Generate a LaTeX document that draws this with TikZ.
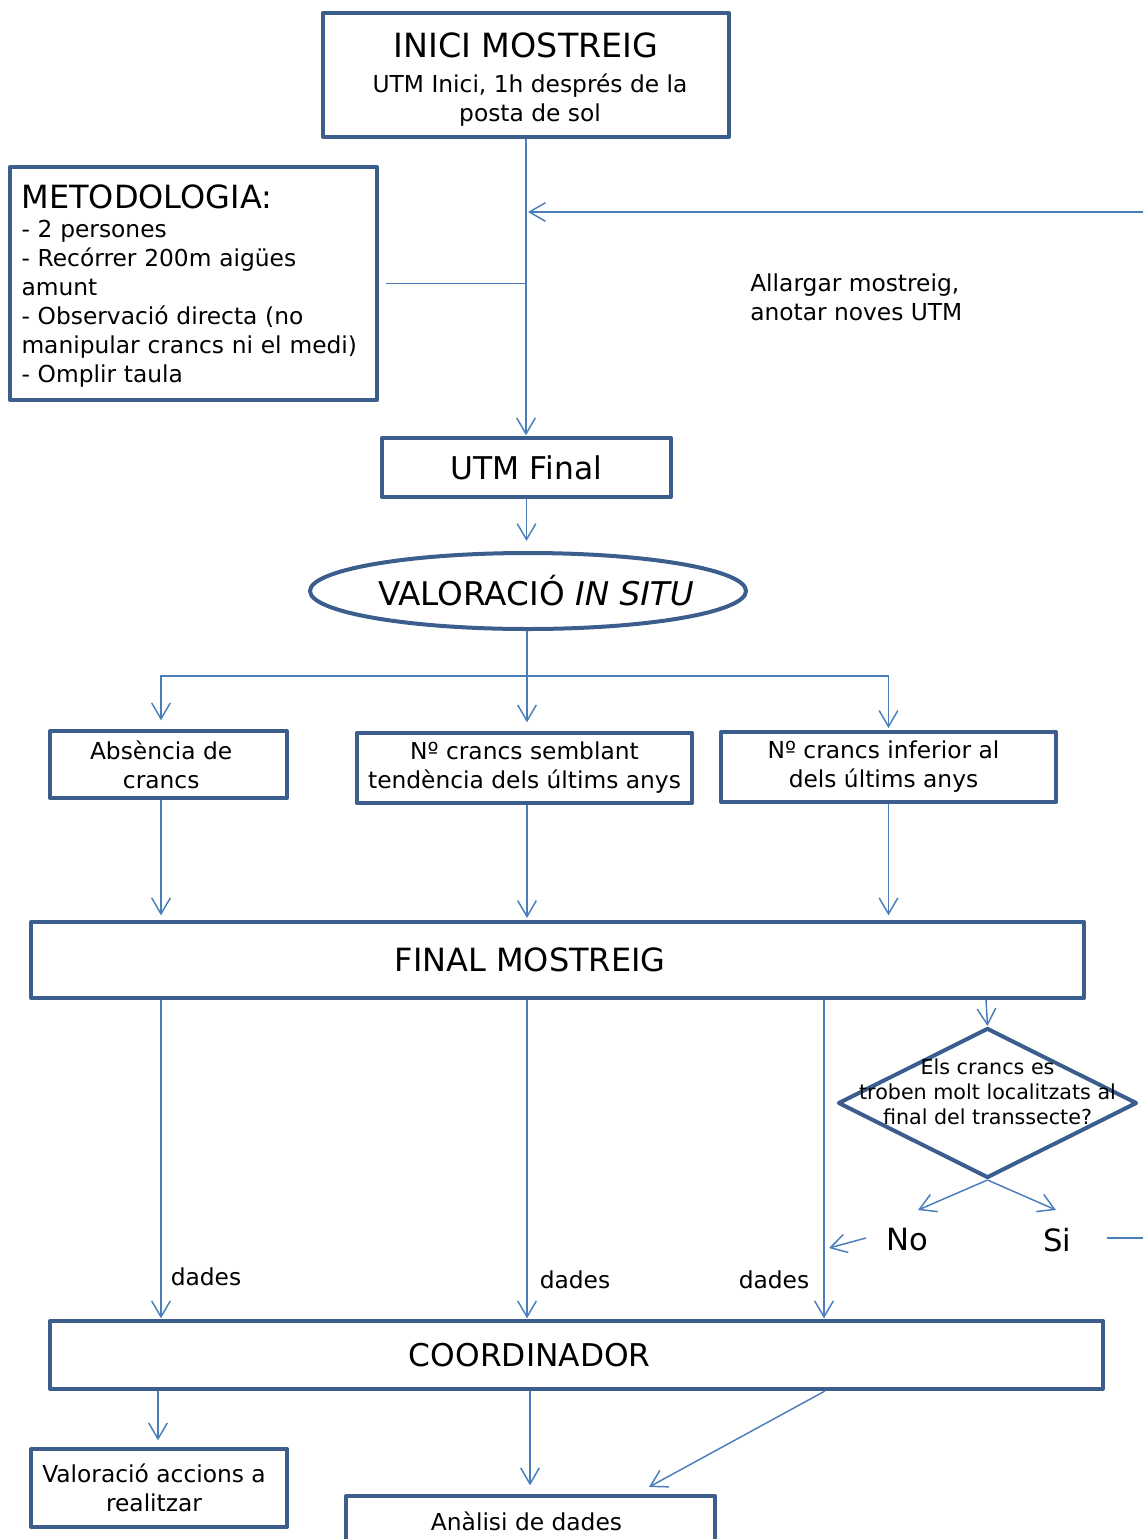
\documentclass[tikz,border=0pt]{standalone}
\usepackage{fontspec}
\setmainfont{DejaVu Sans}
\usetikzlibrary{arrows.meta,shapes.geometric}
\definecolor{boxc}{HTML}{3B5E8C}
\definecolor{linec}{HTML}{4A7EBB}
\newcommand\bigf{\fontsize{23.5}{28}\selectfont}
\newcommand\bigff{\fontsize{24.5}{29}\selectfont}
\newcommand\smf{\fontsize{17.5}{21.75}\selectfont}
\newcommand\dmf{\fontsize{15.5}{18.75}\selectfont}
\newcommand\nof{\fontsize{23}{28}\selectfont}
\begin{document}
\begin{tikzpicture}[x=0.75pt,y=-0.75pt,
  box/.style={draw=boxc, line width=3pt, line join=round, fill=white, inner sep=0pt, align=center, text=black},
  sz/.style 2 args={minimum width=#1*0.75pt, minimum height=#2*0.75pt},
  conn/.style={draw=linec, line width=1.1pt},
  arr/.style={conn, -{Straight Barb[length=12pt, width=14pt]}},
  lbl/.style={inner sep=0pt, text=black},
]
\useasboundingbox (0,0) rectangle (1143,1539);
\begin{scope}
\clip (0,0) rectangle (1143,1539);

% boxes
\node[box, sz={406}{124}, font=\smf] (inici) at (526,75)
  {{\fontsize{25}{29}\selectfont\rule{0pt}{25.5pt}INICI MOSTREIG}\\[4pt]\hspace*{6pt}UTM Inici, 1h després de la\\\hspace*{6pt}posta de sol};
\node[box, sz={367}{233}, align=left, text width=344*0.75pt, font=\smf] (metod) at (193.5,283.5)
  {{\fontsize{24}{28}\selectfont\rule{0pt}{21pt}METODOLOGIA:}\\- 2 persones\\- Recórrer 200m aigües\\amunt\\- Observació directa (no\\manipular crancs ni el medi)\\- Omplir taula};
\node[lbl, font=\smf, align=left, anchor=west] (allarg) at (750,297)
  {Allargar mostreig,\\anotar noves UTM};
\node[box, sz={289}{59}, font=\bigf] (utmf) at (526.5,467.5) {UTM Final};
\node[box, ellipse, sz={436}{76},
  label={[name=valt, font=\bigff, text=black, xshift=6pt]center:VALORACIÓ \textit{IN SITU}}] (val) at (528,591) {};
\node[box, sz={237}{67}, font=\smf] (abs) at (168.5,764.5) {Absència de\hspace*{11pt}\\crancs\hspace*{11pt}};
\node[box, sz={335}{70}, font=\smf] (semb) at (524.5,768) {Nº crancs semblant\\tendència dels últims anys};
\node[box, sz={335}{70}, font=\smf] (inf) at (888.5,767) {Nº crancs inferior al\hspace*{7.5pt}\\dels últims anys\hspace*{7.5pt}};
\node[box, sz={1053}{76}, font=\fontsize{24}{28}\selectfont] (final) at (557.5,960) {FINAL MOSTREIG\hspace*{41pt}};
\node[draw=boxc, line width=3pt, line join=round, fill=white, diamond, aspect=2, inner sep=0pt, sz={299}{150},
  label={[name=diamt, font=\dmf, align=center, yshift=8.5pt, text=black]center:Els crancs es\\troben molt localitzats al\\final del transsecte?}] (diam) at (987.5,1103) {};
\node[lbl, font=\nof] (no) at (907,1240) {No};
\node[lbl, font=\nof] (si) at (1057,1240) {Si};
\node[box, sz={1053}{68}, font=\bigf] (coord) at (576.5,1355) {COORDINADOR\hspace*{70pt}};
\node[box, sz={256}{78}, font=\smf] (valacc) at (159,1488) {Valoració accions a\hspace*{7.5pt}\\realitzar\hspace*{7.5pt}};
\node[box, sz={369}{50}, font=\smf] (anal) at (530.5,1521) {Anàlisi de dades\hspace*{6pt}};

% labels
\node[lbl, font=\smf] (d1) at (206,1277) {dades};
\node[lbl, font=\smf] (d2) at (575,1280) {dades};
\node[lbl, font=\smf] (d3) at (774,1280) {dades};

% columns
\coordinate (cA) at (161,0);
\coordinate (cB) at (527,0);
\coordinate (cC) at (824,0);
\coordinate (cD) at (986,0);
\coordinate (cE) at (158,0);
\coordinate (cF) at (530,0);

% connectors
\draw[arr, shorten >=0.5pt] (inici.south) -- (inici.south |- utmf.north);
\draw[conn] ([xshift=5pt]metod.east) -- (metod.east -| inici.south);
\coordinate (fbR) at (1143,212);
\draw[arr] (fbR) -- ([xshift=1.5pt]fbR -| inici.south);
\draw[arr, shorten >=7.5pt] (utmf.south) -- (utmf.south |- val.north);
\coordinate (br) at (527,676);
\draw[conn] (br |- val.south) -- (br);
\draw[arr, shorten >=6.5pt] (br) -| (cA |- abs.north);
\draw[arr, shorten >=6.5pt] (br) -- (br |- semb.north);
\draw[arr, shorten >=1.5pt] (br) -| (inf.north);
\draw[arr, shorten >=3.5pt] (cA |- abs.south) -- (cA |- final.north);
\draw[arr, shorten >=1.5pt] (cB |- semb.south) -- (cB |- final.north);
\draw[arr, shorten >=3.5pt] (inf.south) -- (inf.south |- final.north);
\draw[arr, shorten >=0.5pt] (cA |- final.south) -- (cA |- coord.north);
\draw[arr, shorten >=0.5pt] (cB |- final.south) -- (cB |- coord.north);
\draw[arr, shorten >=0.5pt] (cC |- final.south) -- (cC |- coord.north);
\draw[arr] (cD |- final.south) -- (diam.north);
\coordinate (noA) at (918,1210);
\coordinate (siA) at (1056,1210);
\draw[arr] (diam.south) -- (noA);
\draw[arr] (diam.south) -- (siA);
\coordinate (noS) at (866,1238);
\coordinate (noTip) at (829,1248);
\draw[arr] (noS) -- (noTip);
\coordinate (siS) at (1107,1238);
\coordinate (siR) at (1143,1238);
\draw[conn] (siS) -- (siR);
\draw[arr, shorten >=5pt] (cE |- coord.south) -- (cE |- valacc.north);
\draw[arr, shorten >=6.5pt] (cF |- coord.south) -- (cF |- anal.north);
\coordinate (dgT) at (649,1487);
\draw[arr] ([xshift=0.75pt]cC |- coord.south) -- (dgT);
\end{scope}
\end{tikzpicture}
\end{document}
